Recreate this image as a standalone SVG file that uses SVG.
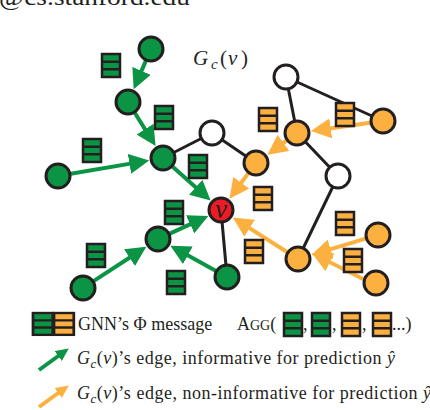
<svg xmlns="http://www.w3.org/2000/svg" width="430" height="410" viewBox="0 0 430 410">
<style>
text{font-family:"Liberation Serif","Times New Roman",serif;fill:#231f20}
.it{font-style:italic}
.ga{stroke:#0b9444;stroke-width:4;fill:none}
.oa{stroke:#fbb040;stroke-width:4;fill:none}
.bl{stroke:#231f20;stroke-width:3}
.n circle{stroke:#231f20;stroke-width:3}
.gn{fill:#0b9444}.on{fill:#fbb040}.wn{fill:#ffffff}.rn{fill:#ec1c24}
.bx{stroke:#231f20;stroke-width:2.5}
</style>
<defs>
<marker id="gh" markerUnits="userSpaceOnUse" markerWidth="20" markerHeight="20" refX="10" refY="10" orient="auto"><path d="M0,0L20,10L0,20z" fill="#0b9444"/></marker>
<marker id="oh" markerUnits="userSpaceOnUse" markerWidth="20" markerHeight="20" refX="10" refY="10" orient="auto"><path d="M0,0L20,10L0,20z" fill="#fbb040"/></marker>
<marker id="ghs" markerUnits="userSpaceOnUse" markerWidth="13" markerHeight="12" refX="6" refY="6" orient="auto"><path d="M0,0L13,6L0,12z" fill="#0b9444"/></marker>
<marker id="ohs" markerUnits="userSpaceOnUse" markerWidth="13" markerHeight="12" refX="6" refY="6" orient="auto"><path d="M0,0L13,6L0,12z" fill="#fbb040"/></marker>
<g id="gb"><rect width="18" height="23" fill="#0b9444" class="bx"/><path d="M0,7.7H18M0,15.3H18" class="bx"/></g>
<g id="ob"><rect width="18" height="23" fill="#fbb040" class="bx"/><path d="M0,7.7H18M0,15.3H18" class="bx"/></g>
</defs>

<text x="-1" y="5" font-size="24" textLength="191" lengthAdjust="spacingAndGlyphs">@cs.stanford.edu</text>

<g id="connectors">
<line class="bl" x1="163" y1="158" x2="212" y2="133"/>
<line class="bl" x1="212" y1="133" x2="256" y2="163"/>
<line class="bl" x1="286" y1="77" x2="297" y2="133"/>
<line class="bl" x1="286" y1="77" x2="383" y2="121"/>
<line class="bl" x1="297" y1="133" x2="338" y2="176"/>
<line class="bl" x1="338" y1="176" x2="298" y2="259"/>
<line class="bl" x1="221" y1="210" x2="227" y2="277"/>
<line class="ga" marker-end="url(#gh)" x1="145.8" y1="60.9" x2="137.6" y2="80.0"/>
<line class="ga" marker-end="url(#gh)" x1="134.9" y1="113.0" x2="150.3" y2="137.6"/>
<line class="ga" marker-end="url(#gh)" x1="70.8" y1="173.8" x2="139.3" y2="162.1"/>
<line class="ga" marker-end="url(#gh)" x1="172.7" y1="166.7" x2="203.2" y2="193.9"/>
<line class="ga" marker-end="url(#gh)" x1="169.8" y1="233.6" x2="199.2" y2="220.1"/>
<line class="ga" marker-end="url(#gh)" x1="93.9" y1="280.9" x2="137.9" y2="252.2"/>
<line class="ga" marker-end="url(#gh)" x1="215.6" y1="270.7" x2="179.1" y2="250.5"/>
<line class="oa" marker-end="url(#oh)" x1="248.2" y1="173.4" x2="235.4" y2="190.8"/>
<line class="oa" marker-end="url(#oh)" x1="286.5" y1="140.7" x2="275.4" y2="148.8"/>
<line class="oa" marker-end="url(#oh)" x1="370.1" y1="122.8" x2="320.8" y2="129.7"/>
<line class="oa" marker-end="url(#oh)" x1="287.0" y1="252.0" x2="241.2" y2="222.9"/>
<line class="oa" marker-end="url(#oh)" x1="365.5" y1="238.7" x2="321.0" y2="252.1"/>
<line class="oa" marker-end="url(#oh)" x1="363.6" y1="279.2" x2="321.0" y2="257.8"/>
</g>

<g class="n">
<g id="n_g1"><circle class="gn" cx="151" cy="49" r="12"/></g>
<g id="n_g2"><circle class="gn" cx="128" cy="102" r="12"/></g>
<g id="n_g3"><circle class="gn" cx="163" cy="158" r="12"/></g>
<g id="n_g4"><circle class="gn" cx="58" cy="176" r="12"/></g>
<g id="n_g5"><circle class="gn" cx="158" cy="239" r="12"/></g>
<g id="n_g6"><circle class="gn" cx="83" cy="288" r="12"/></g>
<g id="n_g7"><circle class="gn" cx="227" cy="277" r="12"/></g>
<g id="n_w1"><circle class="wn" cx="212" cy="133" r="12"/></g>
<g id="n_w2"><circle class="wn" cx="286" cy="77" r="12"/></g>
<g id="n_w3"><circle class="wn" cx="338" cy="176" r="12"/></g>
<g id="n_o1"><circle class="on" cx="256" cy="163" r="12"/></g>
<g id="n_o2"><circle class="on" cx="297" cy="133" r="12"/></g>
<g id="n_o3"><circle class="on" cx="383" cy="121" r="12"/></g>
<g id="n_o4"><circle class="on" cx="298" cy="259" r="12"/></g>
<g id="n_o5"><circle class="on" cx="378" cy="235" r="12"/></g>
<g id="n_o6"><circle class="on" cx="376" cy="283" r="12"/></g>
<g id="n_v"><circle class="rn" cx="221" cy="210" r="12"/><text x="221" y="217.5" font-size="27" class="it" text-anchor="middle">v</text></g>
</g>

<g id="messages">
<use href="#gb" x="102" y="54"/>
<use href="#gb" x="155" y="106"/>
<use href="#gb" x="83" y="139"/>
<use href="#gb" x="189" y="155"/>
<use href="#gb" x="165" y="201"/>
<use href="#gb" x="87" y="244"/>
<use href="#gb" x="167" y="271"/>
<use href="#ob" x="259" y="108"/>
<use href="#ob" x="336" y="103"/>
<use href="#ob" x="254" y="187"/>
<use href="#ob" x="336" y="212"/>
<use href="#ob" x="245" y="240"/>
<use href="#ob" x="344" y="249"/>
</g>

<g id="title">
<text y="65" font-size="21"><tspan x="193" class="it">G</tspan><tspan x="211" dy="4" font-size="15" class="it">c</tspan><tspan x="220" dy="-4">(</tspan><tspan x="228" class="it">v</tspan><tspan x="241">)</tspan></text>
</g>

<g id="legend">
<g transform="translate(33,313) scale(1.1,0.95)"><use href="#gb"/></g>
<g transform="translate(54,313) scale(1.1,0.95)"><use href="#ob"/></g>
<text x="78" y="330" font-size="18">GNN’s Φ message</text>
<text x="237" y="330" font-size="18">A<tspan font-size="14">GG</tspan>(</text>
<use href="#gb" x="284" y="313"/>
<text x="303" y="330" font-size="18">,</text>
<use href="#gb" x="312" y="313"/>
<text x="332" y="330" font-size="18">,</text>
<use href="#ob" x="342" y="313"/>
<text x="362" y="330" font-size="18">,</text>
<use href="#ob" x="373" y="313"/>
<text x="392" y="330" font-size="18">...)</text>
<line class="ga" stroke-width="2.5" marker-end="url(#ghs)" x1="39" y1="370" x2="63.1" y2="352.5"/>
<line class="oa" stroke-width="2.5" marker-end="url(#ohs)" x1="39" y1="407" x2="63.1" y2="389.5"/>
<text x="77" y="364" font-size="18" textLength="318" lengthAdjust="spacing"><tspan class="it">G</tspan><tspan class="it" font-size="13" dy="4">c</tspan><tspan dy="-4">(</tspan><tspan class="it">v</tspan>)’s edge, informative for prediction <tspan class="it">ŷ</tspan></text>
<text x="77" y="399" font-size="18" textLength="354" lengthAdjust="spacing"><tspan class="it">G</tspan><tspan class="it" font-size="13" dy="4">c</tspan><tspan dy="-4">(</tspan><tspan class="it">v</tspan>)’s edge, non-informative for prediction <tspan class="it">ŷ</tspan></text>
</g>
</svg>
